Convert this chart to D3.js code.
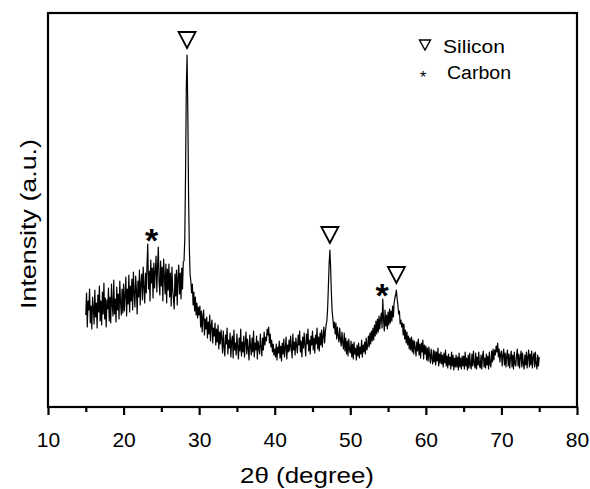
<!DOCTYPE html>
<html>
<head>
<meta charset="utf-8">
<title>XRD pattern</title>
<script src="https://d3js.org/d3.v7.min.js"></script>
<style>
  body { margin: 0; background: #fff; }
  text { font-family: "Liberation Sans", Arial, sans-serif; fill: #000; }
  .trace { fill: none; stroke: #000; stroke-width: 1.2; stroke-linejoin: round; }
</style>
</head>
<body>
<svg width="590" height="489"></svg>
<script>
// scan: 2theta from 15 to 75 in steps of 0.1 degree, intensity in arbitrary units
const angleStart = 15;
const angleStep = 0.1;
const intensity = [
  92, 114, 80, 106, 97, 118, 84, 101, 78, 110,
  99, 83, 117, 90, 104, 79, 112, 95, 121, 86,
  106, 82, 115, 93, 124, 88, 109, 80, 107, 98,
  119, 86, 110, 84, 123, 102, 91, 127, 93, 108,
  85, 120, 97, 113, 88, 126, 104, 92, 118, 94,
  123, 96, 112, 130, 91, 118, 103, 132, 95, 121,
  106, 128, 97, 135, 114, 100, 131, 117, 93, 126,
  110, 137, 102, 124, 133, 107, 140, 119, 104, 134,
  114, 142, 163, 118, 136, 106, 147, 124, 139, 109,
  144, 119, 136, 151, 115, 141, 160, 125, 112, 146,
  121, 140, 106, 148, 130, 113, 143, 104, 138, 117,
  143, 110, 134, 101, 140, 117, 108, 98, 133, 111,
  137, 102, 129, 142, 113, 134, 108, 139, 118, 145,
  146, 168, 232, 318, 352, 296, 212, 160, 133, 126,
  114, 123, 102, 115, 96, 110, 92, 104, 89, 100,
  92, 101, 80, 96, 75, 91, 97, 72, 88, 78,
  90, 69, 85, 73, 92, 66, 82, 87, 64, 79,
  71, 84, 62, 78, 65, 82, 58, 75, 63, 77,
  68, 54, 76, 60, 51, 72, 63, 79, 53, 67,
  59, 74, 50, 66, 71, 49, 77, 57, 64, 52,
  73, 60, 48, 69, 56, 78, 51, 65, 55, 71,
  50, 64, 75, 53, 68, 58, 47, 72, 61, 52,
  69, 55, 76, 50, 64, 57, 71, 48, 66, 59,
  53, 73, 60, 51, 69, 57, 75, 62, 70, 66,
  78, 72, 80, 64, 73, 60, 67, 55, 63, 52,
  58, 50, 63, 47, 60, 54, 66, 49, 61, 46,
  64, 53, 68, 50, 59, 70, 48, 62, 55, 67,
  56, 71, 60, 49, 73, 57, 65, 52, 69, 61,
  54, 72, 62, 76, 55, 66, 50, 70, 59, 74,
  61, 51, 73, 63, 78, 56, 67, 53, 71, 62,
  76, 57, 69, 54, 72, 63, 79, 58, 70, 56,
  74, 62, 77, 60, 71, 80, 64, 75, 82, 86,
  98, 120, 143, 157, 139, 113, 96, 88, 79, 85,
  73, 84, 68, 80, 71, 65, 79, 67, 61, 75,
  64, 58, 74, 56, 69, 53, 66, 51, 68, 57,
  54, 66, 50, 63, 48, 65, 53, 59, 47, 62,
  51, 64, 49, 60, 53, 67, 50, 62, 55, 65,
  53, 69, 57, 61, 71, 60, 74, 63, 76, 66,
  79, 67, 82, 71, 86, 73, 88, 75, 91, 78,
  88, 94, 79, 108, 87, 76, 97, 81, 92, 78,
  95, 82, 98, 84, 96, 86, 101, 90, 104, 109,
  112, 117, 108, 102, 93, 96, 83, 87, 80, 84,
  72, 83, 68, 77, 64, 75, 62, 71, 58, 69,
  57, 70, 55, 67, 53, 66, 59, 51, 65, 56,
  68, 52, 63, 49, 64, 55, 67, 48, 62, 53,
  61, 47, 59, 46, 60, 51, 44, 58, 49, 43,
  57, 45, 56, 42, 55, 46, 59, 41, 53, 44,
  55, 43, 52, 40, 54, 44, 57, 41, 51, 39,
  53, 42, 50, 38, 55, 41, 52, 37, 49, 40,
  52, 40, 50, 37, 54, 40, 49, 38, 51, 41,
  51, 38, 55, 41, 49, 37, 52, 39, 54, 42,
  38, 53, 41, 56, 43, 39, 54, 38, 50, 42,
  55, 41, 39, 52, 38, 51, 56, 40, 49, 39,
  53, 42, 51, 38, 55, 43, 40, 56, 45, 58,
  47, 57, 52, 61, 55, 64, 50, 58, 45, 53,
  56, 41, 52, 58, 42, 54, 40, 51, 57, 41,
  53, 39, 50, 56, 40, 52, 38, 55, 43, 41,
  52, 58, 41, 53, 39, 50, 56, 40, 54, 43,
  38, 52, 42, 55, 39, 50, 57, 40, 53, 42,
  56, 39, 50, 54, 40, 55, 43, 38, 52, 41,
  50
];

const majorTicks = [10, 20, 30, 40, 50, 60, 70, 80];
const minorTicks = [15, 25, 35, 45, 55, 65, 75];
const siliconPeaks = [28.4, 47.3, 56.1];
const carbonPeaks = [23.7, 54.2];
const legendItems = ["Silicon", "Carbon"];

const svg = d3.select("svg");
const margin = {top: 13, right: 13, bottom: 82, left: 48};
const width = 590 - margin.left - margin.right;
const height = 489 - margin.top - margin.bottom;

const data = intensity.map(function(v, i) {
  return { angle: angleStart + i * angleStep, value: v };
});

const x = d3.scaleLinear().domain([10, 80]).range([margin.left, margin.left + width]);
const y = d3.scaleLinear().domain([0, 394]).range([margin.top + height, margin.top]);

// trace
const line = d3.line()
  .x(function(d) { return x(d.angle); })
  .y(function(d) { return y(d.value); });

svg.append("path")
  .datum(data)
  .attr("class", "trace")
  .attr("d", line);

// frame
svg.append("rect")
  .attr("x", margin.left)
  .attr("y", margin.top)
  .attr("width", width)
  .attr("height", height)
  .attr("fill", "none")
  .attr("stroke", "#000")
  .attr("stroke-width", 2.2);

// x axis, major and minor ticks
const xAxis = svg.append("g")
  .attr("transform", "translate(0," + (margin.top + height) + ")")
  .call(d3.axisBottom(x).tickValues(majorTicks).tickSize(8).tickSizeOuter(0).tickFormat(d3.format("d")));
xAxis.select(".domain").remove();
xAxis.selectAll(".tick line").attr("stroke", "#000").attr("stroke-width", 2.2);
xAxis.selectAll(".tick text")
  .attr("dy", null)
  .attr("y", 40)
  .style("font-size", "21px")
  .style("font-family", "'Liberation Sans', Arial, sans-serif");

const xMinor = svg.append("g")
  .attr("transform", "translate(0," + (margin.top + height) + ")")
  .call(d3.axisBottom(x).tickValues(minorTicks).tickSize(5).tickSizeOuter(0).tickFormat(""));
xMinor.select(".domain").remove();
xMinor.selectAll(".tick line").attr("stroke", "#000").attr("stroke-width", 2.2);

// axis titles
svg.append("text")
  .attr("x", 307)
  .attr("y", 483)
  .attr("text-anchor", "middle")
  .attr("textLength", 134)
  .attr("lengthAdjust", "spacingAndGlyphs")
  .style("font-size", "22px")
  .text("2\u03b8 (degree)");

svg.append("text")
  .attr("transform", "translate(36,224) rotate(-90)")
  .attr("text-anchor", "middle")
  .attr("textLength", 170)
  .attr("lengthAdjust", "spacingAndGlyphs")
  .style("font-size", "22px")
  .text("Intensity (a.u.)");

// peak markers placed above the local maximum of the trace
function localMax(a) {
  return d3.max(data.filter(function(d) { return Math.abs(d.angle - a) <= 0.5; }), function(d) { return d.value; });
}

function triangle(cx, tipY, w, h) {
  return "M" + (cx - w / 2) + "," + (tipY - h) + "L" + (cx + w / 2) + "," + (tipY - h) + "L" + cx + "," + tipY + "Z";
}

svg.selectAll(".si-mark")
  .data(siliconPeaks)
  .enter().append("path")
  .attr("class", "si-mark")
  .attr("d", function(a) { return triangle(x(a), y(localMax(a)) - 7, 17, 16); })
  .attr("fill", "none")
  .attr("stroke", "#000")
  .attr("stroke-width", 1.8);

svg.selectAll(".c-mark")
  .data(carbonPeaks)
  .enter().append("text")
  .attr("class", "c-mark")
  .attr("x", function(a) { return x(a); })
  .attr("y", function(a) { return y(localMax(a)) + 8; })
  .attr("text-anchor", "middle")
  .style("font-size", "34px")
  .style("font-weight", "bold")
  .text("*");

// legend
svg.append("path")
  .attr("d", triangle(425, 50, 11, 10))
  .attr("fill", "none")
  .attr("stroke", "#000")
  .attr("stroke-width", 1.4);

svg.append("text")
  .attr("x", 423)
  .attr("y", 83)
  .attr("text-anchor", "middle")
  .style("font-size", "16px")
  .text("*");

svg.selectAll(".legend-label")
  .data(legendItems)
  .enter().append("text")
  .attr("class", "legend-label")
  .attr("x", function(d, i) { return i === 0 ? 443 : 447; })
  .attr("y", function(d, i) { return 53 + i * 26; })
  .attr("textLength", function(d, i) { return i === 0 ? 62 : 64; })
  .attr("lengthAdjust", "spacingAndGlyphs")
  .style("font-size", "18px")
  .text(function(d) { return d; });
</script>
</body>
</html>
